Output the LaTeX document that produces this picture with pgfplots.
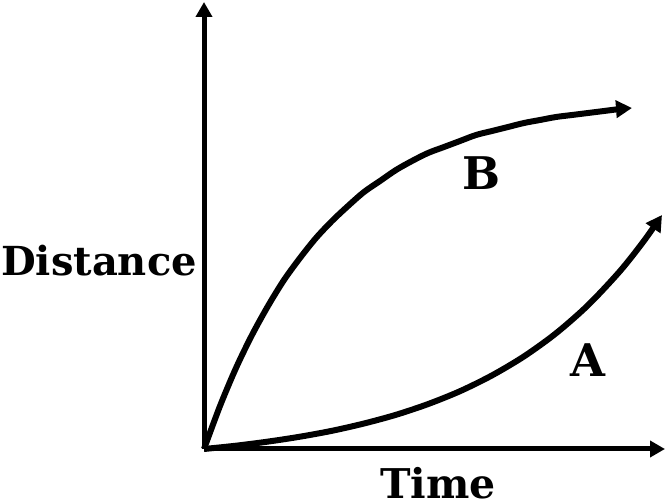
\documentclass[border=0pt]{standalone}
\usepackage{fontspec}
\setmainfont{DejaVu Serif}
\usepackage{pgfplots}
\pgfplotsset{compat=1.18}
\usetikzlibrary{arrows.meta}

\begin{document}
\begin{tikzpicture}
\useasboundingbox (0,0) rectangle (666pt,503pt);
\begin{axis}[
  at={(204pt,54pt)}, anchor=south west,
  scale only axis, width=461pt, height=447pt,
  xmin=0, xmax=461, ymin=0, ymax=447,
  axis lines=left,
  axis line style={line width=5pt, -{Triangle[length=15pt,width=16pt]}},
  xtick=\empty, ytick=\empty,
  clip=false,
  xlabel={Time}, ylabel={Distance},
  every axis x label/.style={at={(axis cs:234,-49)}, anchor=base, inner sep=0pt, font=\fontsize{41}{43}\bfseries},
  every axis y label/.style={at={(axis cs:-203,173)}, anchor=base west, inner sep=0pt, font=\fontsize{40}{42}\bfseries},
]
% curve B
\addplot[black, line width=6pt, smooth, -{Triangle[length=16pt,width=17pt]}] coordinates {
  (0,0) (16,43) (32,81) (48,114) (64,143) (80,169) (96,191) (112,211)
  (128,228) (144,243) (160,257) (176,268) (192,279) (208,288) (224,296)
  (240,302) (256,308) (272,314) (288,318) (304,322) (320,326) (336,329)
  (352,332) (368,334) (384,336) (400,338) (416,340) (428,341)};
% curve A
\addplot[black, line width=6pt, smooth, -{Triangle[length=16pt,width=17pt]}] coordinates {
  (0,0) (32,3.3) (64,7.4) (96,12.3) (128,18.2) (160,25.5) (192,34.2)
  (224,44.9) (256,57.8) (288,73.6) (320,92.6) (352,115.7) (384,143.8)
  (416,177.9) (440,208.2) (458,234)};
\node[font=\fontsize{45}{48}\bfseries] at (axis cs:278,276) {B};
\node[font=\fontsize{45}{48}\bfseries] at (axis cs:384,89) {A};
\end{axis}
\end{tikzpicture}
\end{document}
